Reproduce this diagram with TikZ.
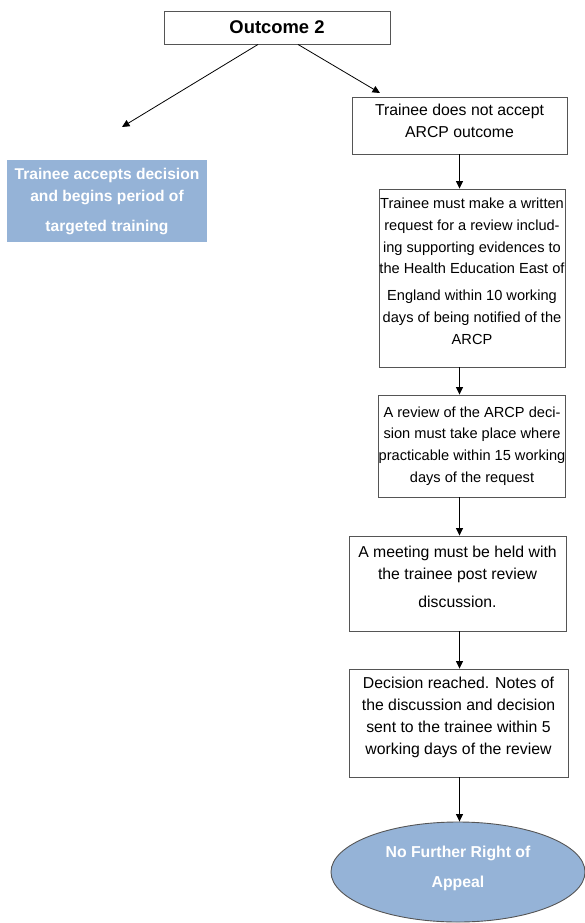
\documentclass[tikz,border=0pt]{standalone}
\usepackage{fontspec}
\setmainfont{Liberation Sans}
\usetikzlibrary{arrows.meta,shapes.geometric}
\definecolor{stepblue}{RGB}{149,179,215}
\definecolor{edgegray}{RGB}{85,85,85}
\tikzset{
    flowbox/.style={draw=edgegray, line width=0.9pt, fill=white, align=center, inner sep=0pt,
        font=\fontsize{15.8}{22}\selectfont},
    smallbox/.style={flowbox, font=\fontsize{14.6}{21.7}\selectfont},
    bluebox/.style={fill=stepblue, text=white, align=center, inner sep=0pt,
        font=\bfseries\fontsize{15.6}{22}\selectfont},
    endoval/.style={ellipse, draw=edgegray, line width=0.9pt, fill=stepblue, text=white,
        align=center, inner sep=0pt, font=\bfseries\fontsize{15.8}{22}\selectfont},
    arr/.style={-{Triangle[length=7.5pt,width=7pt]}, line width=0.8pt},
}
\begin{document}
\begin{tikzpicture}[x=1pt, y=-1pt]
    \useasboundingbox (0,0) rectangle (585,923);
    \node[flowbox, minimum width=226pt, minimum height=33pt, font=\bfseries\fontsize{18.4}{20}\selectfont] (outcome) at (277,27.5) {Outcome 2};
    \node[bluebox, minimum width=200pt, minimum height=82pt] (accept) at (107,201) {Trainee accepts decision\\and begins period of\\[8pt]targeted training};
    \node[flowbox, minimum width=215pt, minimum height=57pt] (notacc) at (459.5,125.5) {Trainee does not accept\\ARCP outcome\\[-12pt]\mbox{}};
    \node[smallbox, minimum width=186pt, minimum height=178pt] (request) at (472,278) {Trainee must make a written\\request for a review includ-\\ing supporting evidences to\\the Health Education East of\\[5pt]England within 10 working\\days of being notified of the\\ARCP\\[-8pt]\mbox{}};
    \node[smallbox, minimum width=186pt, minimum height=102pt] (review) at (472,446) {A review of the ARCP deci-\\sion must take place where\\practicable within 15 working\\days of the request};
    \node[flowbox, minimum width=217pt, minimum height=95pt] (meeting) at (457.5,583.5) {A meeting must be held with\\the trainee post review\\[6pt]discussion.\\[-8pt]\mbox{}};
    \node[flowbox, minimum width=219pt, minimum height=108pt] (decision) at (458.5,723) {Decision reached. Notes of\\the discussion and decision\\sent to the trainee within 5\\working days of the review\\[-8pt]\mbox{}};
    \node[endoval, minimum width=254pt, minimum height=100pt] (appeal) at (458,872) {No Further Right of\\[8pt]Appeal\\[-12pt]\mbox{}};
    \coordinate (lefttip) at (122,127);
    \coordinate (righttip) at (380,93);
    \draw[arr] ([xshift=-19pt]outcome.south) -- (lefttip);
    \draw[arr] ([xshift=21pt]outcome.south) -- (righttip);
    \draw[arr] (notacc.south) -- (notacc.south |- request.north);
    \draw[arr] (notacc.south |- request.south) -- (notacc.south |- review.north);
    \draw[arr] (notacc.south |- review.south) -- (notacc.south |- meeting.north);
    \draw[arr] (notacc.south |- meeting.south) -- (notacc.south |- decision.north);
    \draw[arr] (notacc.south |- decision.south) -- (notacc.south |- appeal.north);
\end{tikzpicture}
\end{document}
